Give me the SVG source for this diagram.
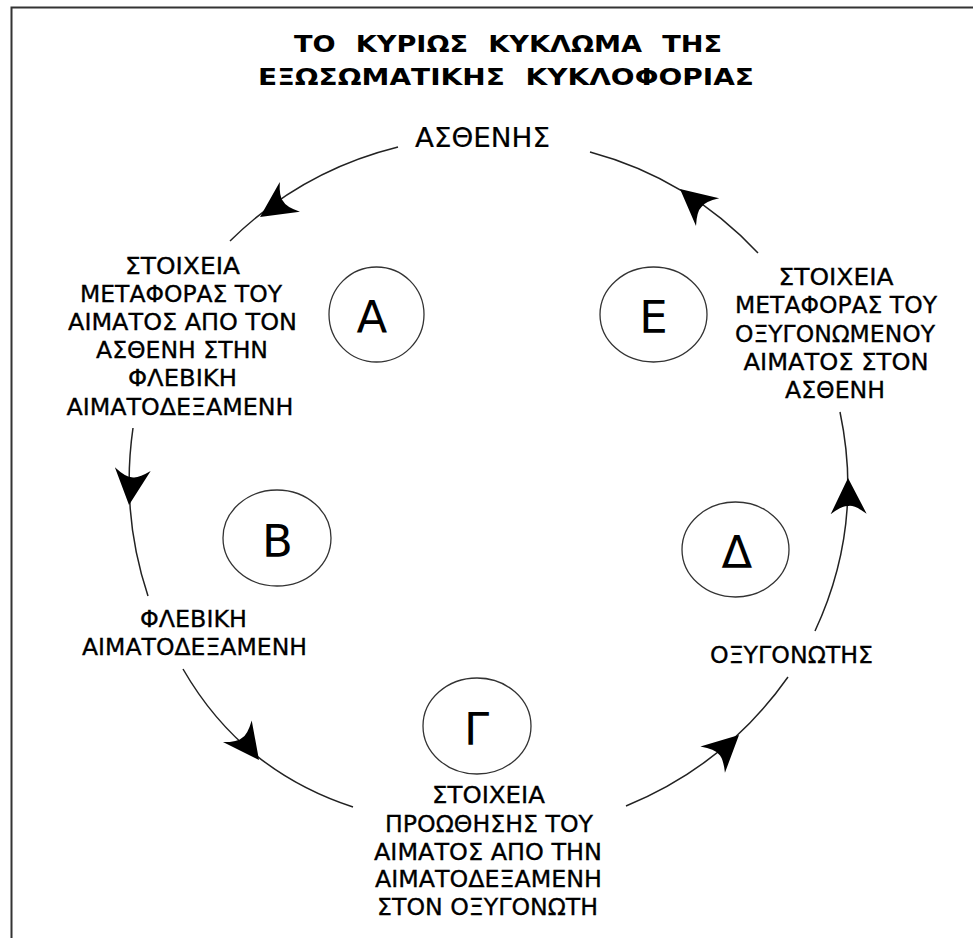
<svg xmlns="http://www.w3.org/2000/svg" xmlns:xlink="http://www.w3.org/1999/xlink" width="973" height="938" viewBox="0 0 973 938">
<style>
  text { font-family: "DejaVu Sans", "Noto Sans", sans-serif; fill: #000; text-anchor: middle; }
  .title { font-size: 23px; font-weight: bold; word-spacing: 9px; }
  .lbl { font-size: 22.5px; stroke: #000; stroke-width: 0.3; }
  .big { font-size: 26px; stroke: #000; stroke-width: 0.2; }
  .letter { font-size: 45px; }
  .node ellipse { fill: none; stroke: #333; stroke-width: 1.3; }
  .arc { fill: none; stroke: #222; stroke-width: 1.5; }
  .frame { fill: none; stroke: #333; stroke-width: 2; }
</style>
<defs>
  <path id="ah" d="M0,0 L-36,-18 Q-27,-6 -28,0 Q-27,6 -36,18 Z" fill="#000"/>
</defs>
<rect width="973" height="938" fill="#fff"/>
<path class="frame" d="M11.5,938 V7.5 H973"/>

<g id="title">
  <text class="title" x="508" y="52" textLength="428" lengthAdjust="spacingAndGlyphs">ΤΟ ΚΥΡΙΩΣ ΚΥΚΛΩΜΑ ΤΗΣ</text>
  <text class="title" x="506" y="85" textLength="496" lengthAdjust="spacingAndGlyphs">ΕΞΩΣΩΜΑΤΙΚΗΣ ΚΥΚΛΟΦΟΡΙΑΣ</text>
</g>

<g id="connectors">
  <path class="arc" d="M398,147 Q301,171 230,241"/>
  <use xlink:href="#ah" transform="translate(260,217) rotate(146)"/>
  <path class="arc" d="M133,428 Q120.6,513.8 148,596"/>
  <use xlink:href="#ah" transform="translate(129,505) rotate(96)"/>
  <path class="arc" d="M183,669 Q241.5,770.6 353,807"/>
  <use xlink:href="#ah" transform="translate(259,760) rotate(53)"/>
  <path class="arc" d="M626,806 Q726,765 788,677"/>
  <use xlink:href="#ah" transform="translate(739,735) rotate(-43)"/>
  <path class="arc" d="M815,631 Q864,526 840,412"/>
  <use xlink:href="#ah" transform="translate(848,478) rotate(-91)"/>
  <path class="arc" d="M758,253 Q688.4,178.5 590,152"/>
  <use xlink:href="#ah" transform="translate(680,189) rotate(-140)"/>
</g>

<g id="patient" class="node">
  <text class="big" x="482.5" y="147" textLength="135" lengthAdjust="spacingAndGlyphs">ΑΣΘΕΝΗΣ</text>
</g>

<g id="transfer-to-reservoir" class="node">
  <text class="lbl" x="182.5" y="274" textLength="115" lengthAdjust="spacingAndGlyphs">ΣΤΟΙΧΕΙΑ</text>
  <text class="lbl" x="181" y="302" textLength="202" lengthAdjust="spacingAndGlyphs">ΜΕΤΑΦΟΡΑΣ ΤΟΥ</text>
  <text class="lbl" x="182.5" y="330" textLength="229" lengthAdjust="spacingAndGlyphs">ΑΙΜΑΤΟΣ ΑΠΟ ΤΟΝ</text>
  <text class="lbl" x="182" y="358" textLength="172" lengthAdjust="spacingAndGlyphs">ΑΣΘΕΝΗ ΣΤΗΝ</text>
  <text class="lbl" x="182.5" y="386" textLength="109" lengthAdjust="spacingAndGlyphs">ΦΛΕΒΙΚΗ</text>
  <text class="lbl" x="180" y="415" textLength="227" lengthAdjust="spacingAndGlyphs">ΑΙΜΑΤΟΔΕΞΑΜΕΝΗ</text>
</g>

<g id="transfer-to-patient" class="node">
  <text class="lbl" x="836" y="285" textLength="115" lengthAdjust="spacingAndGlyphs">ΣΤΟΙΧΕΙΑ</text>
  <text class="lbl" x="836" y="313" textLength="202" lengthAdjust="spacingAndGlyphs">ΜΕΤΑΦΟΡΑΣ ΤΟΥ</text>
  <text class="lbl" x="835" y="342" textLength="200" lengthAdjust="spacingAndGlyphs">ΟΞΥΓΟΝΩΜΕΝΟΥ</text>
  <text class="lbl" x="836" y="370" textLength="185" lengthAdjust="spacingAndGlyphs">ΑΙΜΑΤΟΣ ΣΤΟΝ</text>
  <text class="lbl" x="835" y="398" textLength="100" lengthAdjust="spacingAndGlyphs">ΑΣΘΕΝΗ</text>
</g>

<g id="venous-reservoir" class="node">
  <text class="lbl" x="193.5" y="627" textLength="107" lengthAdjust="spacingAndGlyphs">ΦΛΕΒΙΚΗ</text>
  <text class="lbl" x="194.5" y="655" textLength="225" lengthAdjust="spacingAndGlyphs">ΑΙΜΑΤΟΔΕΞΑΜΕΝΗ</text>
</g>

<g id="propulsion" class="node">
  <text class="lbl" x="488.5" y="803" textLength="113" lengthAdjust="spacingAndGlyphs">ΣΤΟΙΧΕΙΑ</text>
  <text class="lbl" x="489" y="832" textLength="208" lengthAdjust="spacingAndGlyphs">ΠΡΟΩΘΗΣΗΣ ΤΟΥ</text>
  <text class="lbl" x="488" y="860" textLength="228" lengthAdjust="spacingAndGlyphs">ΑΙΜΑΤΟΣ ΑΠΟ ΤΗΝ</text>
  <text class="lbl" x="488.5" y="887" textLength="227" lengthAdjust="spacingAndGlyphs">ΑΙΜΑΤΟΔΕΞΑΜΕΝΗ</text>
  <text class="lbl" x="487.5" y="915" textLength="221" lengthAdjust="spacingAndGlyphs">ΣΤΟΝ ΟΞΥΓΟΝΩΤΗ</text>
</g>

<g id="oxygenator" class="node">
  <text class="lbl" x="791.5" y="663" textLength="163" lengthAdjust="spacingAndGlyphs">ΟΞΥΓΟΝΩΤΗΣ</text>
</g>

<g id="circle-A" class="node">
  <ellipse cx="376.5" cy="314.5" rx="47.5" ry="47.5"/>
  <text class="letter" x="372" y="333">Α</text>
</g>
<g id="circle-E" class="node">
  <ellipse cx="653.5" cy="314.5" rx="53.5" ry="47.5"/>
  <text class="letter" x="653.5" y="333">Ε</text>
</g>
<g id="circle-B" class="node">
  <ellipse cx="277" cy="538" rx="54" ry="48"/>
  <text class="letter" x="277.5" y="557">Β</text>
</g>
<g id="circle-G" class="node">
  <ellipse cx="477" cy="726" rx="54" ry="48"/>
  <text class="letter" x="476.5" y="745">Γ</text>
</g>
<g id="circle-D" class="node">
  <ellipse cx="735.5" cy="549.5" rx="53.5" ry="47.5"/>
  <text class="letter" x="737" y="568">Δ</text>
</g>
</svg>
